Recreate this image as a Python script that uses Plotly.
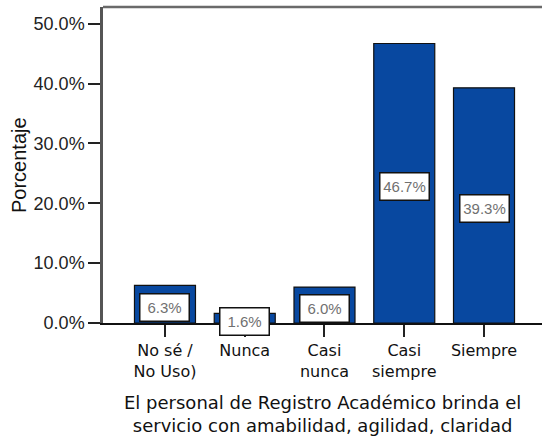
import plotly.graph_objects as go

categories = ["No sé /<br>No Uso)", "Nunca", "Casi<br>nunca", "Casi<br>siempre", "Siempre"]
values = [6.3, 1.6, 6.0, 46.7, 39.3]
value_labels = ["6.3%", "1.6%", "6.0%", "46.7%", "39.3%"]
y_tickvals = [0, 10, 20, 30, 40, 50]
y_ticktext = ["0.0%", "10.0%", "20.0%", "30.0%", "40.0%", "50.0%"]
x_title_lines = ["El personal de Registro Académico brinda el",
                 "servicio con amabilidad, agilidad, claridad"]
y_title = "Porcentaje"

xpos = list(range(len(categories)))

fig = go.Figure()
fig.add_trace(go.Bar(
    x=xpos, y=values, width=0.765,
    marker=dict(color="#0848A0", line=dict(color="#111111", width=1.2)),
    hoverinfo="skip",
))

for xi, v, t in zip(xpos, values, value_labels):
    fig.add_annotation(
        x=xi, y=v / 2, xref="x", yref="y", text=t, showarrow=False,
        font=dict(family="Liberation Sans", size=15, color="#707070"),
        bgcolor="white", bordercolor="#111111", borderwidth=1.5, borderpad=2,
        width=44, height=22,
        yshift=-3,
    )

# x-axis title (two lines)
fig.add_annotation(
    x=0.5, y=0, xref="paper", yref="paper", text="<br>".join(x_title_lines),
    showarrow=False, xanchor="center", yanchor="middle", yshift=-91,
    borderpad=0,
    font=dict(family="DejaVu Sans", size=18, color="#111111"),
)

fig.add_annotation(
    x=0, y=0.5, xref="paper", yref="paper", text=y_title, showarrow=False,
    textangle=-90, xanchor="center", yanchor="middle", xshift=-84,
    font=dict(family="Liberation Sans", size=20, color="#111111"),
)

# top border
fig.add_shape(type="line", xref="paper", yref="paper", x0=0, x1=1, y0=1, y1=1,
              line=dict(color="#6a6a6a", width=2.5))

fig.update_layout(
    width=542, height=440,
    margin=dict(l=103, r=0, t=7, b=116.5),
    plot_bgcolor="white", paper_bgcolor="white",
    showlegend=False,
    xaxis=dict(
        range=[-0.777, 4.727], tickvals=xpos, ticktext=categories,
        showline=True, linecolor="#111111", linewidth=1.5,
        ticks="outside", ticklen=12, tickwidth=2, tickcolor="#222222",
        showgrid=False, zeroline=False,
        tickfont=dict(family="DejaVu Sans", size=16, color="#111111"),
    ),
    yaxis=dict(
        range=[0, 52.8], tickvals=y_tickvals, ticktext=y_ticktext,
        showline=True, linecolor="#555555", linewidth=2.5,
        ticks="outside", ticklen=12, tickwidth=2, tickcolor="#222222",
        showgrid=False, zeroline=False,
        tickfont=dict(family="Liberation Sans", size=18, color="#222222"),
    ),
)

fig.write_html("out.html", config={"displayModeBar": False},
               post_script="document.body.style.margin='0px';document.body.style.padding='0px';")
